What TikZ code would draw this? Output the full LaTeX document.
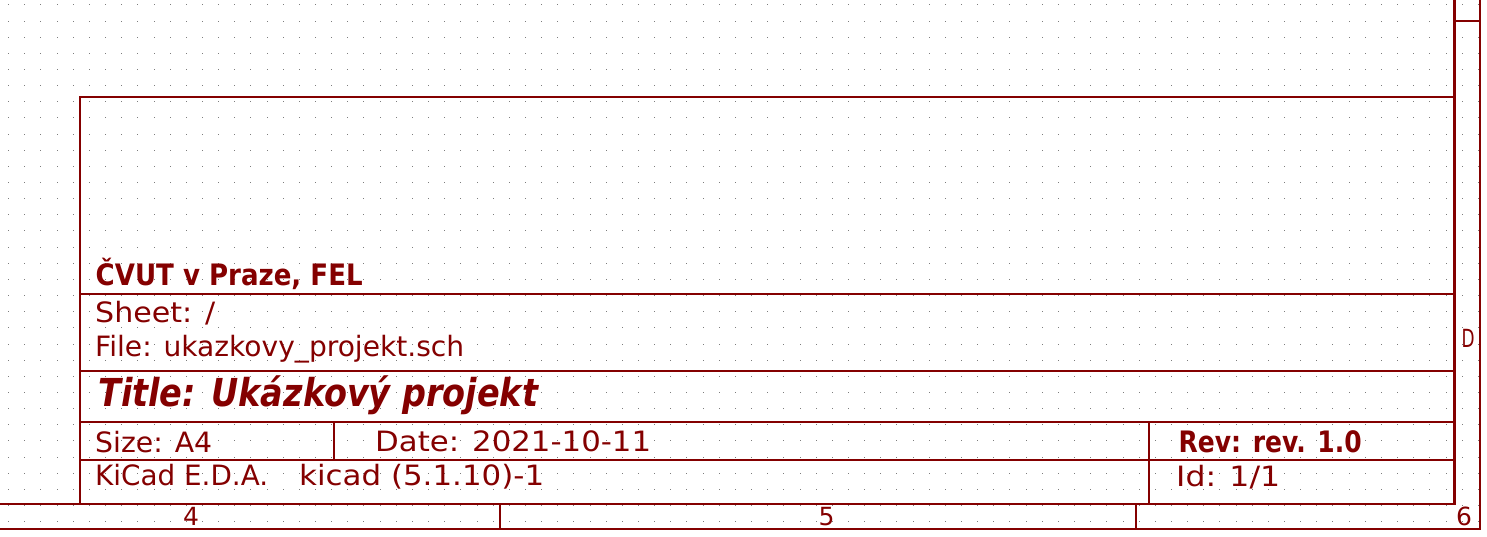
\documentclass[tikz,border=0pt]{standalone}
\usepackage{fontspec}
\setmainfont{DejaVu Sans}
\usepackage{graphicx}
\definecolor{kred}{RGB}{132,0,0}
\definecolor{kdot}{RGB}{125,125,125}
\newcommand{\hfit}[2]{\resizebox{#1}{\height}{#2}}
\begin{document}
\begin{tikzpicture}[x=1pt,y=-1pt,
  frame/.style={draw=kred,line width=2.2pt},
  lbl/.style={text=kred,inner sep=0pt,anchor=base west,font=\fontsize{28}{30}\selectfont},
  boldlbl/.style={lbl,font=\fontsize{29.5}{32}\selectfont\bfseries},
  titlelbl/.style={lbl,font=\fontsize{38.5}{40}\selectfont\bfseries\itshape},
  marklbl/.style={text=kred,inner sep=0pt,anchor=base,font=\fontsize{25}{26}\selectfont}]
\useasboundingbox (0,0) rectangle (1487,537);
% grid dots, snapped to whole pixels
\foreach \i in {0,...,91}{
  \pgfmathsetmacro{\gx}{round(8.2+\i*16.15)}
  \foreach \j in {0,...,32}{
    \pgfmathsetmacro{\gy}{round(4.4+\j*16.15)}
    \fill[kdot] (\gx,\gy) rectangle ++(1,1);
  }
}
% outer and inner frames
\draw[frame] (-2,529.3) -- (1480,529.3) -- (1480,-2);
\draw[frame] (-2,504) -- (1454.5,504) -- (1454.5,-2);
\draw[frame] (1454.5,20.7) -- (1480,20.7);
\draw[frame] (500,504) -- (500,529.3);
\draw[frame] (1136,504) -- (1136,529.3);
% title block
\draw[frame] (1454.5,97) -- (80,97) -- (80,504);
\draw[frame] (80,294) -- (1454.5,294);
\draw[frame] (80,371) -- (1454.5,371);
\draw[frame] (80,422) -- (1454.5,422);
\draw[frame] (80,460) -- (1454.5,460);
\draw[frame] (334,422) -- (334,460);
\draw[frame] (1149,422) -- (1149,504);
% texts
\node[boldlbl] (org) at (95.5,285) {\hfit{267pt}{ČVUT v Praze, FEL}};
\node[lbl] (sheet) at (95,322) {\hfit{120pt}{Sheet: /}};
\node[lbl] (file) at (95,356) {\hfit{369pt}{File: ukazkovy\_projekt.sch}};
\node[titlelbl] (title) at (98,406.5) {\hfit{440pt}{Title: Ukázkový projekt}};
\node[lbl] (size) at (95,452) {\hfit{117pt}{Size: A4}};
\node[lbl] (date) at (375,451) {\hfit{276pt}{Date: 2021-10-11}};
\node[lbl] (kicad) at (95,485.7) {\hfit{173pt}{KiCad E.D.A.}\hspace{31pt}\hfit{245pt}{kicad (5.1.10)-1}};
\node[boldlbl] (rev) at (1178.5,452) {\hfit{183pt}{Rev: rev. 1.0}};
\node[lbl] (id) at (1176,486.5) {\hfit{104pt}{Id: 1/1}};
\node[marklbl] (c4) at (191,525) {4};
\node[marklbl] (c5) at (826.5,525) {5};
\node[marklbl] (c6) at (1464,525) {6};
\node[marklbl] (rD) at (1468,347) {\hfit{13pt}{D}};
\end{tikzpicture}
\end{document}
